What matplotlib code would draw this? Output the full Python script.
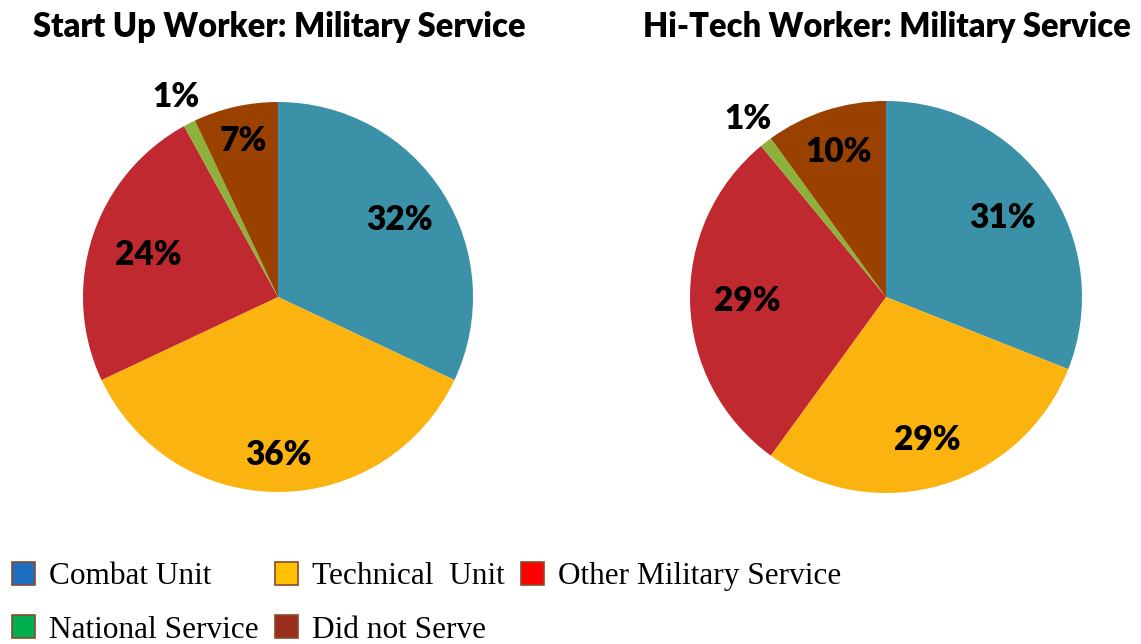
import numpy as np
import matplotlib.pyplot as plt
from matplotlib.patches import Patch

categories = ["Combat Unit", "Technical  Unit", "Other Military Service",
              "National Service", "Did not Serve"]
startup_vals = [32, 36, 24, 1, 7]
hitech_vals = [31, 29, 29, 1, 10]
titles = ["Start Up Worker: Military Service", "Hi-Tech Worker: Military Service"]

pie_colors = ["#3A91A8", "#FBB40F", "#C0292F", "#8CB23C", "#9A4100"]
legend_colors = ["#1F6FC0", "#FFC000", "#FF0000", "#00B050", "#9B2D1F"]

W, H = 1141, 644
fig = plt.figure(figsize=(W / 100, H / 100), dpi=100)


def draw_pie(cx, cy, r, vals, title, title_x, radii):
    ax = fig.add_axes([(cx - r) / W, (H - cy - r) / H, 2 * r / W, 2 * r / H])
    wedges, _ = ax.pie(vals, colors=pie_colors, startangle=90, counterclock=False,
                       radius=1, wedgeprops=dict(linewidth=0))
    for w, v, rr in zip(wedges, vals, radii):
        ang = np.deg2rad((w.theta1 + w.theta2) / 2)
        ax.text(rr * np.cos(ang), rr * np.sin(ang), f"{v}%", ha="center", va="center",
                fontsize=24, fontweight="heavy", family="Lato", color="black")
    ax.set_xlim(-1, 1)
    ax.set_ylim(-1, 1)
    ax.set_aspect("equal")
    ax.axis("off")
    fig.text(title_x / W, 1 - 27 / H, title, ha="center", va="center",
             fontsize=23.5, fontweight="heavy", family="Lato")


draw_pie(278, 297, 195, startup_vals, titles[0], 279, [0.74, 0.81, 0.70, 1.15, 0.82])
draw_pie(886, 297, 196, hitech_vals, titles[1], 887, [0.72, 0.76, 0.71, 1.15, 0.78])

# legend, reordered so the column-wise fill matches the reference rows
order = [0, 3, 1, 4, 2]
handles = [Patch(facecolor=legend_colors[i], edgecolor="#8B4A2B", linewidth=1.2,
                 label=categories[i]) for i in order]
fig.legend(handles=handles, ncol=3, loc="lower left", bbox_to_anchor=(-0.006, -0.03),
           frameon=False, prop={"family": "Liberation Serif", "size": 22.5},
           handlelength=0.75, handleheight=0.75, handletextpad=0.45,
           columnspacing=0.5, labelspacing=0.76, borderaxespad=0.2)

fig.savefig("out.png", dpi=100)
